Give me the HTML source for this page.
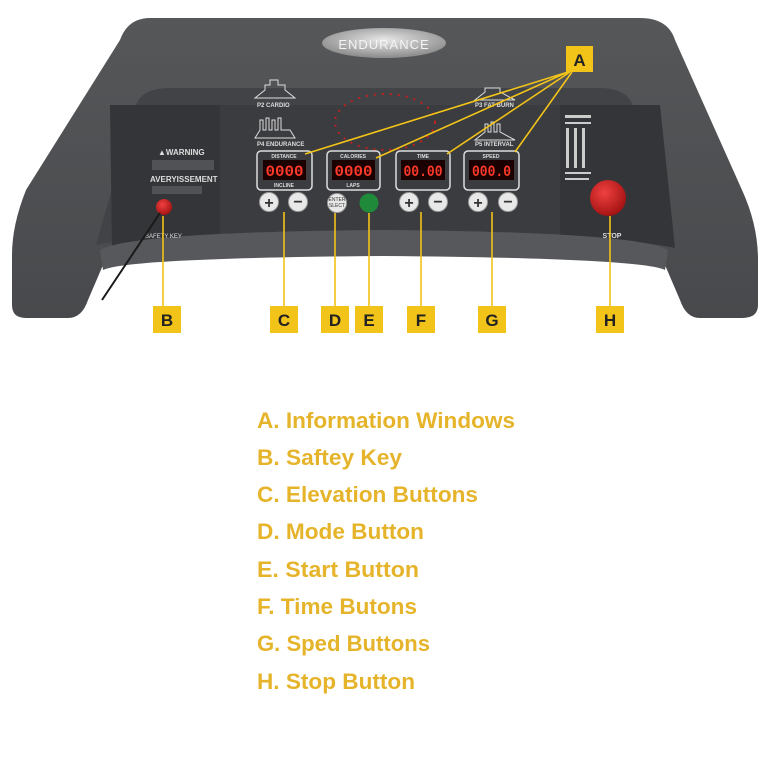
<!DOCTYPE html>
<html><head><style>
html,body{margin:0;padding:0;background:#fff;width:768px;height:768px;overflow:hidden}
svg{display:block}
</style></head><body>
<svg width="768" height="768" viewBox="0 0 768 768" xmlns="http://www.w3.org/2000/svg">
<defs>
<linearGradient id="body" x1="0" y1="0" x2="0" y2="1"><stop offset="0" stop-color="#555759"/><stop offset="1" stop-color="#48494c"/></linearGradient>
<radialGradient id="red" cx="0.4" cy="0.35" r="0.7"><stop offset="0" stop-color="#f04040"/><stop offset="1" stop-color="#a01010"/></radialGradient>
<radialGradient id="plate" cx="0.5" cy="0.4" r="0.6"><stop offset="0" stop-color="#e8e8e8"/><stop offset="1" stop-color="#8a8a8a"/></radialGradient>
</defs>
<path d="M150,18 L640,18 Q668,18 675,40 L742,190 Q758,225 758,260 L758,305 Q758,318 742,318 L700,318 Q686,318 680,300 L665,265 Q640,245 384,240 Q128,245 103,265 L88,300 Q82,318 68,318 L26,318 Q12,318 12,305 L12,255 Q12,225 26,190 L120,40 Q128,18 150,18 Z" fill="url(#body)"/>
<path d="M135,108 Q140,88 170,88 L600,88 Q628,88 634,108 L672,245 Q640,236 384,233 Q128,236 96,245 Z" fill="#414346"/>
<path d="M110,105 L220,105 L220,240 Q150,240 112,248 Z" fill="#333538"/>
<path d="M560,105 L660,105 L675,248 Q640,240 560,238 Z" fill="#333538"/>
<rect x="220" y="105" width="340" height="133" fill="#3a3c3f"/>
<path d="M100,250 Q130,232 384,230 Q638,232 668,250 L665,270 Q640,258 384,256 Q128,258 103,270 Z" fill="#56585b"/>
<ellipse cx="384" cy="43" rx="62" ry="15" fill="url(#plate)"/>
<text x="384" y="49" text-anchor="middle" font-family="Liberation Sans,sans-serif" font-size="13" fill="#f4f4f4" letter-spacing="1">ENDURANCE</text>
<text x="145" y="238" font-family="Liberation Sans,sans-serif" font-size="6" fill="#ddd">SAFETY KEY</text>
<text x="158" y="155" font-family="Liberation Sans,sans-serif" font-size="8" font-weight="bold" fill="#ddd">▲WARNING</text>
<text x="150" y="182" font-family="Liberation Sans,sans-serif" font-size="8" font-weight="bold" fill="#ddd">AVERYISSEMENT</text>
<rect x="152" y="160" width="62" height="10" fill="#505255"/>
<rect x="152" y="186" width="50" height="8" fill="#505255"/>
<g stroke="#ddd" fill="none" stroke-width="1">
<path d="M255,148 L265,140 L265,135 L270,135 L270,130 L278,130 L278,135 L285,135 L285,140 L295,148 Z" transform="translate(0,-50)"/>
<path d="M255,148 L260,140 V130 H263 V140 H266 V128 H269 V140 H272 V130 H275 V140 H278 V128 H281 V140 H290 L295,148 Z" transform="translate(0,-10)"/>
<path d="M475,100 L485,92 L485,88 L500,88 L500,92 L515,100 Z"/>
<path d="M475,140 L485,132 V124 H488 V132 H491 V122 H494 V132 H497 V124 H500 V132 L515,140 Z"/>
</g>
<g font-family="Liberation Sans,sans-serif" font-size="6" fill="#ddd">
<text x="257" y="107" font-weight="bold">P2 CARDIO</text>
<text x="257" y="146" font-weight="bold">P4 ENDURANCE</text>
<text x="475" y="107" font-weight="bold">P3 FAT BURN</text>
<text x="475" y="146" font-weight="bold">P5 INTERVAL</text>
</g>
<ellipse cx="385" cy="122" rx="50" ry="28" fill="none" stroke="#c02020" stroke-width="2" stroke-dasharray="2 6"/>
<g fill="#ccc"><rect x="565" y="115" width="26" height="3"/><rect x="565" y="122" width="26" height="2"/><rect x="566" y="128" width="3" height="40"/><rect x="574" y="128" width="3" height="40"/><rect x="582" y="128" width="3" height="40"/><rect x="565" y="172" width="26" height="2"/><rect x="565" y="178" width="24" height="2"/></g>
<g font-family="Liberation Mono,monospace" font-weight="bold">
<g fill="none" stroke="#ddd" stroke-width="1.5">
<rect x="257" y="151" width="55" height="39" rx="4"/><rect x="327" y="151" width="53" height="39" rx="4"/><rect x="396" y="151" width="54" height="39" rx="4"/><rect x="464" y="151" width="55" height="39" rx="4"/>
</g>
<g fill="#1a0000"><rect x="263" y="160" width="43" height="20"/><rect x="332" y="160" width="43" height="20"/><rect x="401" y="160" width="44" height="20"/><rect x="469" y="160" width="45" height="20"/></g>
<g fill="#ff3a2a" font-size="16" text-anchor="middle">
<text x="284.5" y="176" textLength="38" lengthAdjust="spacingAndGlyphs">0000</text><text x="353.5" y="176" textLength="38" lengthAdjust="spacingAndGlyphs">0000</text><text x="423" y="176" textLength="39" lengthAdjust="spacingAndGlyphs">00.00</text><text x="491.5" y="176" textLength="39" lengthAdjust="spacingAndGlyphs">000.0</text></g>
<g fill="#ddd" font-size="5" text-anchor="middle" font-family="Liberation Sans,sans-serif">
<text x="284" y="158">DISTANCE</text><text x="353" y="158">CALORIES</text><text x="423" y="158">TIME</text><text x="491" y="158">SPEED</text>
<text x="284" y="187">INCLINE</text><text x="353" y="187">LAPS</text></g>
</g>
<g fill="#e8e8e8" stroke="#999" stroke-width="1">
<circle cx="269" cy="202" r="9.5"/><circle cx="298" cy="202" r="9.5"/><circle cx="409" cy="202" r="9.5"/><circle cx="438" cy="202" r="9.5"/><circle cx="478" cy="202" r="9.5"/><circle cx="508" cy="202" r="9.5"/><circle cx="337" cy="203" r="9.5"/></g>
<circle cx="369" cy="203" r="9.5" fill="#1f8a3a"/>
<g font-family="Liberation Sans,sans-serif" font-weight="bold" fill="#333" text-anchor="middle" font-size="16">
<text x="269" y="208">+</text><text x="298" y="207">−</text><text x="409" y="208">+</text><text x="438" y="207">−</text><text x="478" y="208">+</text><text x="508" y="207">−</text></g>
<text x="337" y="201" font-family="Liberation Sans,sans-serif" font-size="5" text-anchor="middle" fill="#333">ENTER</text>
<text x="337" y="207" font-family="Liberation Sans,sans-serif" font-size="5" text-anchor="middle" fill="#333">SLECT</text>
<circle cx="164" cy="207" r="8" fill="url(#red)"/>
<path d="M160,213 L102,300" stroke="#1a1a1a" stroke-width="2"/>
<circle cx="608" cy="198" r="18" fill="url(#red)"/>
<text x="612" y="238" font-family="Liberation Sans,sans-serif" font-size="7" font-weight="bold" fill="#ddd" text-anchor="middle">STOP</text>
<g stroke="#f2c318" stroke-width="1.6" fill="none">
<path d="M568,72 L305,154 M568,72 L376,158 M570,72 L447,154 M572,72 L515,152"/>
<path d="M163,216 V306 M284,212 V306 M335,213 V306 M369,213 V306 M421,212 V306 M492,212 V306 M610,216 V306"/>
</g>
<g fill="#f2c318">
<rect x="566" y="46" width="27" height="26"/>
<rect x="153" y="306" width="28" height="27"/><rect x="270" y="306" width="28" height="27"/><rect x="321" y="306" width="28" height="27"/><rect x="355" y="306" width="28" height="27"/><rect x="407" y="306" width="28" height="27"/><rect x="478" y="306" width="28" height="27"/><rect x="596" y="306" width="28" height="27"/>
</g>
<g font-family="Liberation Sans,sans-serif" font-weight="bold" font-size="17" fill="#222" text-anchor="middle">
<text x="579.5" y="66">A</text>
<text x="167" y="326">B</text><text x="284" y="326">C</text><text x="335" y="326">D</text><text x="369" y="326">E</text><text x="421" y="326">F</text><text x="492" y="326">G</text><text x="610" y="326">H</text>
</g>
<g font-family="Liberation Sans,sans-serif" font-size="22" fill="#e6b42a" font-weight="bold">
<text x="257" y="428" textLength="258" lengthAdjust="spacingAndGlyphs">A. Information Windows</text>
<text x="257" y="465" textLength="145" lengthAdjust="spacingAndGlyphs">B. Saftey Key</text>
<text x="257" y="502" textLength="221" lengthAdjust="spacingAndGlyphs">C. Elevation Buttons</text>
<text x="257" y="539" textLength="167" lengthAdjust="spacingAndGlyphs">D. Mode Button</text>
<text x="257" y="577" textLength="162" lengthAdjust="spacingAndGlyphs">E. Start Button</text>
<text x="257" y="614" textLength="160" lengthAdjust="spacingAndGlyphs">F. Time Butons</text>
<text x="257" y="651" textLength="173" lengthAdjust="spacingAndGlyphs">G. Sped Buttons</text>
<text x="257" y="689" textLength="158" lengthAdjust="spacingAndGlyphs">H. Stop Button</text>
</g>
</svg>
</body></html>
